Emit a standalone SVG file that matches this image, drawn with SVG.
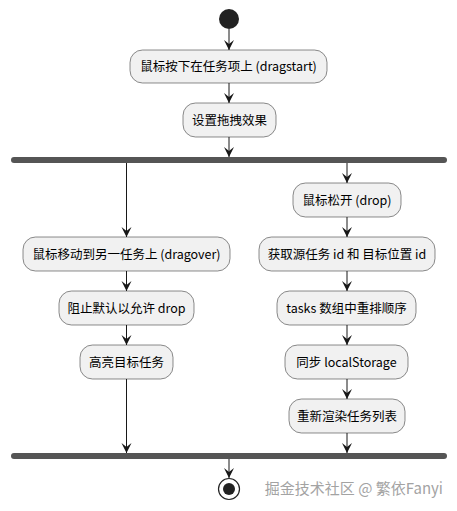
<svg xmlns="http://www.w3.org/2000/svg" width="457" height="511" viewBox="0 0 457 511">
<defs>
<marker id="arr" viewBox="0 0 10 12" refX="10" refY="6" markerWidth="10" markerHeight="12" orient="auto" markerUnits="userSpaceOnUse">
<path d="M0,1 L10,6 L0,11 L4,6 Z" fill="#181818"/>
</marker>
</defs>
<style>
.n rect{fill:#F1F1F1;stroke:#181818;stroke-width:0.5}
.n text{font-family:"Noto Sans CJK SC","Noto Sans",sans-serif;font-size:12.5px;fill:#000;text-anchor:middle}
.c line{stroke:#181818;stroke-width:1;marker-end:url(#arr)}
.bar{fill:#555555}
.wm{font-family:"Noto Sans CJK SC","Noto Sans",sans-serif;font-size:15px;fill:#a3a3a3;text-anchor:end}
</style>
<rect width="457" height="511" fill="#fff"/>
<g id="start"><circle cx="229" cy="19" r="10" fill="#222"/></g>
<g id="n1" class="n"><rect x="130" y="50" width="197" height="33" rx="12.5"/><text x="228.5" y="71">鼠标按下在任务项上 (dragstart)</text></g>
<g id="n2" class="n"><rect x="183" y="103" width="93" height="34" rx="12.5"/><text x="229.5" y="124.5">设置拖拽效果</text></g>
<g id="fork"><rect class="bar" x="11" y="157" width="436" height="6" rx="3"/></g>
<g id="l1" class="n"><rect x="23" y="237" width="207" height="34" rx="12.5"/><text x="126.5" y="258.5">鼠标移动到另一任务上 (dragover)</text></g>
<g id="l2" class="n"><rect x="59" y="291" width="135" height="34" rx="12.5"/><text x="126.5" y="312.5">阻止默认以允许 drop</text></g>
<g id="l3" class="n"><rect x="80" y="345" width="93" height="34" rx="12.5"/><text x="126.5" y="366.5">高亮目标任务</text></g>
<g id="r1" class="n"><rect x="293" y="183" width="108" height="34" rx="12.5"/><text x="347" y="204.5">鼠标松开 (drop)</text></g>
<g id="r2" class="n"><rect x="259" y="237" width="176" height="34" rx="12.5"/><text x="347" y="258.5">获取源任务 id 和 目标位置 id</text></g>
<g id="r3" class="n"><rect x="277" y="291" width="139" height="34" rx="12.5"/><text x="346.5" y="312.5">tasks 数组中重排顺序</text></g>
<g id="r4" class="n"><rect x="285" y="345" width="123" height="34" rx="12.5"/><text x="346.5" y="366.5">同步 localStorage</text></g>
<g id="r5" class="n"><rect x="289" y="399" width="116" height="34" rx="12.5"/><text x="347" y="420.5">重新渲染任务列表</text></g>
<g id="join"><rect class="bar" x="11" y="453" width="436" height="6" rx="3"/></g>
<g id="end"><circle cx="229" cy="489" r="10.5" fill="#fff" stroke="#222" stroke-width="1.2"/><circle cx="229" cy="489" r="6" fill="#222"/></g>
<g id="connectors" class="c">
<line x1="229" y1="29" x2="229" y2="50"/>
<line x1="229" y1="83" x2="229" y2="103"/>
<line x1="229" y1="137" x2="229" y2="157"/>
<line x1="126.5" y1="163" x2="126.5" y2="237"/>
<line x1="126.5" y1="271" x2="126.5" y2="291"/>
<line x1="126.5" y1="325" x2="126.5" y2="345"/>
<line x1="126.5" y1="379" x2="126.5" y2="453"/>
<line x1="347" y1="163" x2="347" y2="183"/>
<line x1="347" y1="217" x2="347" y2="237"/>
<line x1="347" y1="271" x2="347" y2="291"/>
<line x1="347" y1="325" x2="347" y2="345"/>
<line x1="347" y1="379" x2="347" y2="399"/>
<line x1="347" y1="433" x2="347" y2="453"/>
<line x1="229" y1="459" x2="229" y2="478"/>
</g>
<text class="wm" x="443" y="494">掘金技术社区 @ 繁依Fanyi</text>
</svg>
